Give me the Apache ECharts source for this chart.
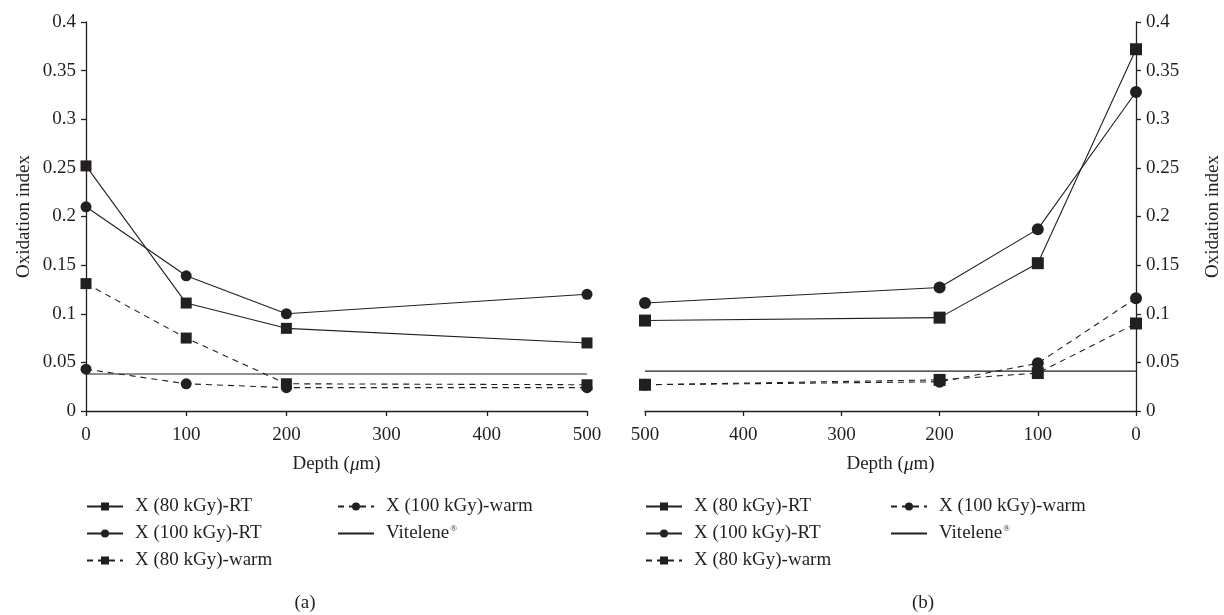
<!DOCTYPE html>
<html>
<head>
<meta charset="utf-8">
<script src="https://cdn.jsdelivr.net/npm/echarts@6/dist/echarts.min.js"></script>
<style>
html,body{margin:0;padding:0;background:#fff;}
#chart{width:1224px;height:615px;}
</style>
</head>
<body>
<div id="chart"></div>
<script>
// ---- data ----
var depthA = [0, 100, 200, 500];
var depthB = [500, 200, 100, 0];
var seriesNames = ['X (80 kGy)-RT', 'X (100 kGy)-RT', 'X (80 kGy)-warm', 'X (100 kGy)-warm', 'Vitelene'];
// panel (a)
var a80RT = [0.252, 0.111, 0.085, 0.070];
var a100RT = [0.210, 0.139, 0.100, 0.120];
var a80warm = [0.131, 0.075, 0.028, 0.027];
var a100warm = [0.043, 0.028, 0.024, 0.024];
var aVit = [0.038, 0.038, 0.038, 0.038];
// panel (b)
var b80RT = [0.093, 0.096, 0.152, 0.372];
var b100RT = [0.111, 0.127, 0.187, 0.328];
var b80warm = [0.027, 0.032, 0.039, 0.090];
var b100warm = [0.027, 0.030, 0.049, 0.116];
var bVit = [0.041, 0.041, 0.041, 0.041];
var yTicks = ['0', '0.05', '0.1', '0.15', '0.2', '0.25', '0.3', '0.35', '0.4'];
var captions = ['(a)', '(b)'];

var INK = '#231f20';
var FONT = '"Liberation Serif", "DejaVu Serif", serif';
var FS = 19;

function pairs(xs, ys) { return xs.map(function (x, i) { return [x, ys[i]]; }); }

var styles = [
  {symbol: 'rect', dash: 'solid'},
  {symbol: 'circle', dash: 'solid'},
  {symbol: 'rect', dash: [6, 5]},
  {symbol: 'circle', dash: [6, 5]},
  {symbol: 'none', dash: 'solid'}
];

function mkSeries(idx, datas, xs, size) {
  return datas.map(function (d, k) {
    var st = styles[k];
    return {
      name: seriesNames[k],
      type: 'line',
      xAxisIndex: idx, yAxisIndex: idx,
      data: pairs(xs, d),
      symbol: st.symbol,
      symbolSize: size,
      showSymbol: st.symbol !== 'none',
      itemStyle: {color: INK},
      lineStyle: {color: INK, width: 1.1, type: st.dash},
      emphasis: {disabled: true},
      animation: false,
      z: k === 4 ? 1 : 2
    };
  });
}

var axisLine = {show: true, lineStyle: {color: INK, width: 1.3}};
var axisTick = {show: true, length: 5, lineStyle: {color: INK, width: 1.3}};
var labelStyle = {color: INK, fontFamily: FONT, fontSize: FS};

function xAxis(idx, inverse) {
  return {
    type: 'value', gridIndex: idx, min: 0, max: 500, interval: 100, inverse: inverse,
    name: 'Depth ({i|μ}m)', nameLocation: 'middle', nameGap: 44,
    nameTextStyle: {color: INK, fontFamily: FONT, fontSize: FS,
      rich: {i: {fontStyle: 'italic', color: INK, fontFamily: FONT, fontSize: FS}}},
    axisLine: axisLine, axisTick: axisTick,
    axisLabel: Object.assign({margin: 15}, labelStyle),
    splitLine: {show: false}
  };
}
function yAxis(idx, pos, gap) {
  return {
    type: 'value', gridIndex: idx, position: pos, min: 0, max: 0.4, interval: 0.05,
    name: 'Oxidation index', nameLocation: 'middle', nameGap: gap, nameRotate: 90,
    nameTextStyle: {color: INK, fontFamily: FONT, fontSize: FS},
    axisLine: axisLine, axisTick: axisTick,
    axisLabel: Object.assign({margin: 10, formatter: function (v) {
      return yTicks[Math.round(v / 0.05)];
    }}, labelStyle),
    splitLine: {show: false}
  };
}

function legend(left, names) {
  return {
    left: left, top: 497, orient: 'vertical', itemGap: 8, padding: 0,
    itemWidth: 36, itemHeight: 10,
    data: names.map(function (n) {
      return n === 'Vitelene' ? {name: n, itemStyle: {opacity: 0}} : n;
    }),
    selectedMode: false,
    textStyle: {color: INK, fontFamily: FONT, fontSize: FS, padding: [0, 0, 0, 7],
      rich: {n: {color: INK, fontFamily: FONT, fontSize: FS},
             s: {color: INK, fontFamily: FONT, fontSize: 9, padding: [0, 0, 9, 1]}}},
    formatter: function (n) { return n === 'Vitelene' ? '{n|Vitelene}{s|®}' : n; }
  };
}

var option = {
  backgroundColor: '#fff',
  animation: false,
  grid: [
    {left: 86, right: 637, top: 22, bottom: 204},
    {left: 645, right: 88, top: 22, bottom: 204}
  ],
  xAxis: [xAxis(0, false), xAxis(1, true)],
  yAxis: [yAxis(0, 'left', 52), yAxis(1, 'right', 68)],
  legend: [
    legend(86, seriesNames.slice(0, 3)),
    legend(337, seriesNames.slice(3)),
    legend(645, seriesNames.slice(0, 3)),
    legend(890, seriesNames.slice(3))
  ],
  graphic: [
    {type: 'text', x: 305, y: 603, style: {text: captions[0], fill: INK, font: FS + 'px ' + FONT, textAlign: 'center', textVerticalAlign: 'middle'}},
    {type: 'text', x: 923, y: 603, style: {text: captions[1], fill: INK, font: FS + 'px ' + FONT, textAlign: 'center', textVerticalAlign: 'middle'}}
  ],
  series: mkSeries(0, [a80RT, a100RT, a80warm, a100warm, aVit], depthA, 11)
    .concat(mkSeries(1, [b80RT, b100RT, b80warm, b100warm, bVit], depthB, 12))
};

var chart = echarts.init(document.getElementById('chart'), null, {renderer: 'canvas'});
chart.setOption(option);
</script>
</body>
</html>
